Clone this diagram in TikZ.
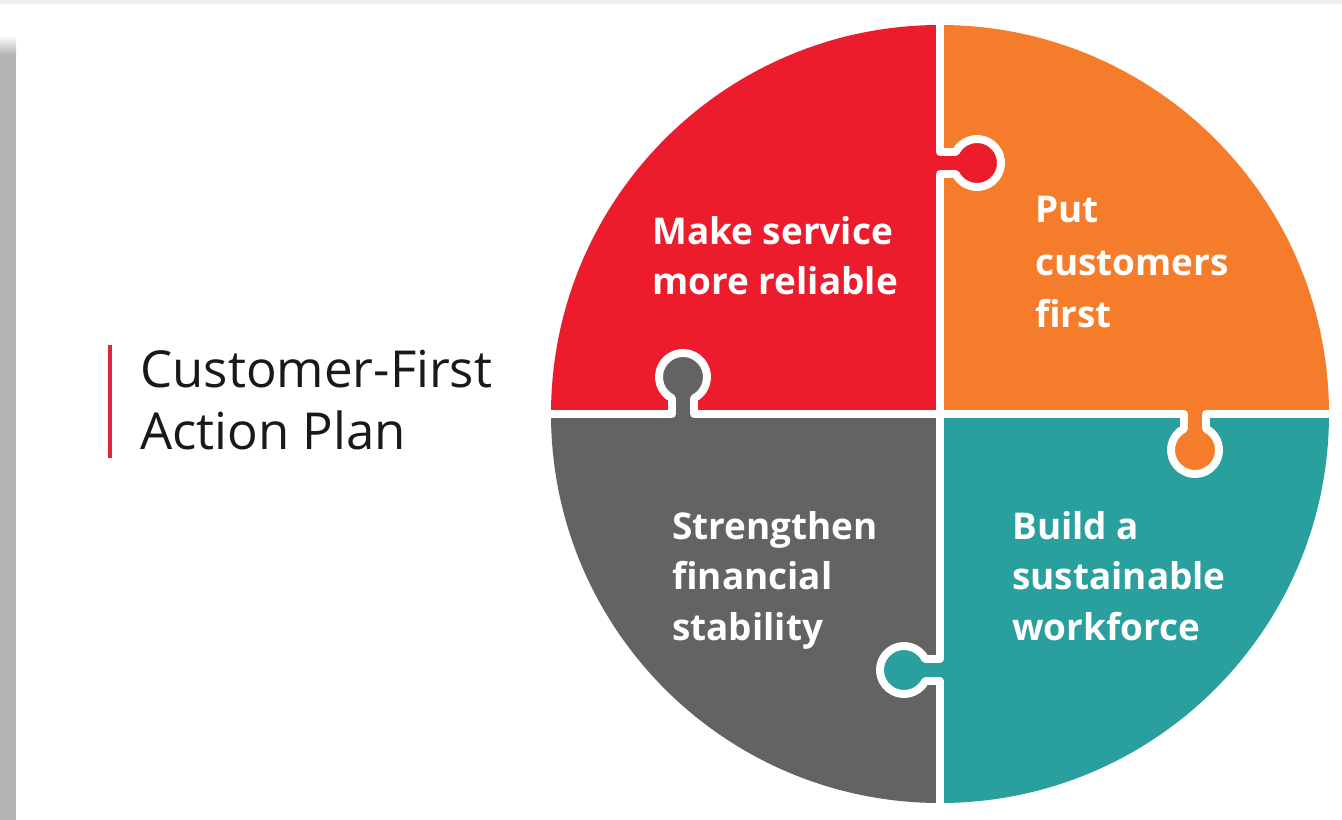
\documentclass[tikz,border=0pt]{standalone}
\usepackage{fontspec}
\setmainfont{Open Sans}
\definecolor{pzred}{RGB}{236,28,45}
\definecolor{pzorange}{RGB}{244,124,42}
\definecolor{pzgray}{RGB}{99,99,99}
\definecolor{pzteal}{RGB}{42,160,158}
\definecolor{stripgray}{RGB}{180,180,180}
\definecolor{titlered}{RGB}{220,40,60}
\begin{document}
\begin{tikzpicture}[x = 0.02cm, y = -0.02cm,
        piece/.style = {inner sep = 0, anchor = base west, align = left, text = white,
            font = \fontsize{21}{28.5}\selectfont\bfseries},
        cut/.style = {draw = white, line width = 4.5pt, line join = round}]
    \fill[white] (0, 0) rectangle (1342, 820);
    \fill[black!6] (0, 0) rectangle (1342, 4);
    \fill[stripgray] (0, 55) rectangle (16, 820);
    \shade[top color = white, bottom color = stripgray] (0, 35) rectangle (16, 55);
    % four quarters
    \fill[pzred] (940, 414) -- (551, 414) arc[start angle = 180, end angle = 270, radius = 389] -- cycle;
    \fill[pzorange] (940, 414) -- (940, 25) arc[start angle = 270, end angle = 360, radius = 389] -- cycle;
    \fill[pzteal] (940, 414) -- (1329, 414) arc[start angle = 0, end angle = 90, radius = 389] -- cycle;
    \fill[pzgray] (940, 414) -- (940, 803) arc[start angle = 90, end angle = 180, radius = 389] -- cycle;
    % tabs
    \fill[pzred] (930, 152) -- (955.7, 152) arc[start angle = -152.7, end angle = 152.7, radius = 24] -- (930, 174) -- cycle;
    \fill[pzgray] (672, 424) -- (672, 398.3) arc[start angle = 117.3, end angle = 422.7, radius = 24] -- (694, 424) -- cycle;
    \fill[pzorange] (1184, 404) -- (1184, 428.7) arc[start angle = 242.7, end angle = -62.7, radius = 24] -- (1206, 404) -- cycle;
    \fill[pzteal] (950, 659) -- (925.3, 659) arc[start angle = -27.3, end angle = -332.7, radius = 24] -- (950, 681) -- cycle;
    % white cuts
    \draw[cut] (940, 20) -- (940, 152) -- (955.7, 152) arc[start angle = -152.7, end angle = 152.7, radius = 24]
        -- (940, 174) -- (940, 659) -- (925.3, 659) arc[start angle = -27.3, end angle = -332.7, radius = 24]
        -- (940, 681) -- (940, 808);
    \draw[cut] (545, 414) -- (672, 414) -- (672, 398.3) arc[start angle = 117.3, end angle = 422.7, radius = 24]
        -- (694, 414) -- (1184, 414) -- (1184, 428.7) arc[start angle = 242.7, end angle = -62.7, radius = 24]
        -- (1206, 414) -- (1335, 414);
    % labels (anchored at the last line)
    \node[piece] (make) at (652, 295) {Make service\\more reliable};
    \node[piece, font = \fontsize{21}{30}\selectfont\bfseries] (put) at (1035, 328) {Put\\customers\\first};
    \node[piece] (strength) at (672, 640) {Strengthen\\financial\\stability};
    \node[piece] (build) at (1012, 640) {Build a\\sustainable\\workforce};
    % title
    \draw[titlered, line width = 2.2pt] (110, 345) -- (110, 458);
    \node[inner sep = 0, anchor = base west, align = left, text = black!90,
        font = \fontsize{29}{35.3}\selectfont] (title) at (140, 450) {Customer-First\\Action Plan};
\end{tikzpicture}
\end{document}
